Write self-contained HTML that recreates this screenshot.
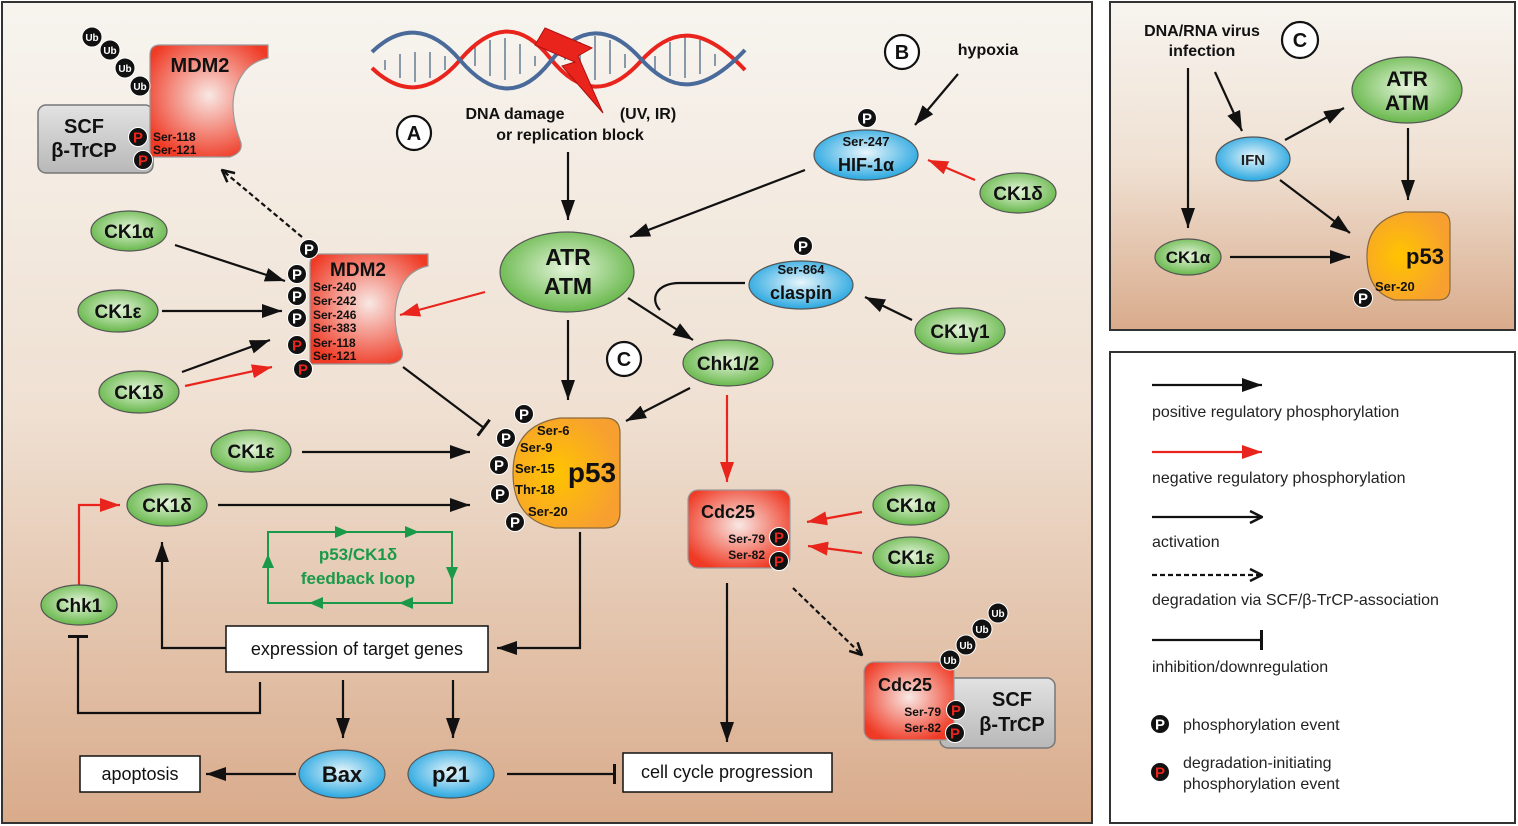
<!DOCTYPE html>
<html><head><meta charset="utf-8"><style>
html,body{margin:0;padding:0;background:#fff;}
svg{display:block;font-family:"Liberation Sans",Arial,sans-serif;font-weight:bold;}
</style></head><body>
<svg width="1518" height="826" viewBox="0 0 1518 826" xmlns="http://www.w3.org/2000/svg">
<defs>
<linearGradient id="bg" x1="0" y1="0" x2="0" y2="1"><stop offset="0" stop-color="#f7f4ef"/><stop offset="0.5" stop-color="#efe0d2"/><stop offset="1" stop-color="#d9ab8b"/></linearGradient>
<radialGradient id="gr" cx="0.5" cy="0.45" r="0.6"><stop offset="0" stop-color="#e6f5dc"/><stop offset="1" stop-color="#5cb23e"/></radialGradient>
<radialGradient id="bl" cx="0.5" cy="0.45" r="0.6"><stop offset="0" stop-color="#e8f6fb"/><stop offset="1" stop-color="#18a0de"/></radialGradient>
<radialGradient id="rd" cx="0.5" cy="0.45" r="0.6"><stop offset="0" stop-color="#f8e8e4"/><stop offset="1" stop-color="#ef3a25"/></radialGradient>
<radialGradient id="or" cx="0.4" cy="0.5" r="0.6"><stop offset="0" stop-color="#ffc400"/><stop offset="1" stop-color="#f7a030"/></radialGradient>
<linearGradient id="gy" x1="0" y1="0" x2="0" y2="1"><stop offset="0" stop-color="#e2e2e2"/><stop offset="1" stop-color="#b8b8b8"/></linearGradient>
<marker id="a" viewBox="0 0 20 14" refX="20" refY="7" markerWidth="20" markerHeight="14" orient="auto" markerUnits="userSpaceOnUse"><path d="M0,0L20,7L0,14z" fill="#111"/></marker>
<marker id="ar" viewBox="0 0 20 14" refX="20" refY="7" markerWidth="20" markerHeight="14" orient="auto" markerUnits="userSpaceOnUse"><path d="M0,0L20,7L0,14z" fill="#e8241c"/></marker>
<marker id="ao" viewBox="0 0 14 14" refX="13" refY="7" markerWidth="14" markerHeight="14" orient="auto" markerUnits="userSpaceOnUse"><path d="M1,1L13,7L1,13" fill="none" stroke="#111" stroke-width="2.5"/></marker>
<marker id="ag" viewBox="0 0 14 12" refX="13" refY="6" markerWidth="14" markerHeight="12" orient="auto" markerUnits="userSpaceOnUse"><path d="M0,0L14,6L0,12z" fill="#1a9a48"/></marker>
<marker id="t" viewBox="0 0 4 20" refX="2" refY="10" markerWidth="4" markerHeight="20" orient="auto" markerUnits="userSpaceOnUse"><rect x="0" y="0" width="3" height="20" fill="#111"/></marker>
<g id="P"><circle r="9.5" fill="#111" stroke="#fff" stroke-width="1"/><text y="5.5" text-anchor="middle" font-size="15" fill="#fff">P</text></g>
<g id="PR"><circle r="9.5" fill="#111" stroke="#fff" stroke-width="1"/><text y="5.5" text-anchor="middle" font-size="15" fill="#e8241c">P</text></g>
<g id="Ub"><circle r="10" fill="#111" stroke="#fff" stroke-width="1"/><text y="4" text-anchor="middle" font-size="10" fill="#fff">Ub</text></g>
</defs>

<rect x="2" y="2" width="1090" height="821" fill="url(#bg)" stroke="#333" stroke-width="2"/>
<rect x="1110" y="2" width="405" height="328" fill="url(#bg)" stroke="#333" stroke-width="2"/>
<rect x="1110" y="352" width="405" height="471" fill="#fff" stroke="#333" stroke-width="2"/>

<g stroke="#111" stroke-width="2.2" fill="none">
<g stroke="#8899aa" stroke-width="2">
<path d="M385,70v-10M400,78v-24M415,82v-30M430,78v-26M445,70v-14M475,46v20M490,40v36M505,38v42M520,44v30M535,56v10M565,60v-10M580,42v38M595,36v44M610,40v34M625,54v14M655,56v14M670,42v34M685,36v42M700,40v34M715,54v12"/>
</g>
<path d="M372,68 C400,95 430,95 460,60 S520,20 550,58 S610,95 640,62 S700,22 745,70" stroke="#e8241c" stroke-width="4"/>
<path d="M372,52 C400,25 430,25 460,60 S520,100 550,62 S610,25 640,58 S700,98 745,50" stroke="#4a6a9a" stroke-width="4"/>
</g>
<path d="M545,28 L592,48 L578,56 L603,113 L562,66 L575,62 L535,45 Z" fill="#e8241c" stroke="#b01010"/>
<g font-size="16" fill="#111">
<text x="515" y="119" text-anchor="middle">DNA damage</text>
<text x="648" y="119" text-anchor="middle">(UV, IR)</text>
<text x="570" y="140" text-anchor="middle">or replication block</text>
<text x="988" y="55" text-anchor="middle">hypoxia</text>
</g>
<g fill="#fff" stroke="#111" stroke-width="2.2">
<circle cx="414" cy="133" r="17"/><circle cx="902" cy="52" r="17"/><circle cx="624" cy="359" r="17"/><circle cx="1300" cy="40" r="18"/>
</g>
<g font-size="20" text-anchor="middle" fill="#111">
<text x="414" y="140">A</text><text x="902" y="59">B</text><text x="624" y="366">C</text><text x="1300" y="47">C</text>
</g>

<g stroke="#111" stroke-width="2.2" fill="none" marker-end="url(#a)">
<path d="M568,152 V220"/>
<path d="M958,74 L915,125"/>
<path d="M805,170 L630,237"/>
<path d="M912,320 L865,297"/>
<path d="M628,298 L693,340"/>
<path d="M690,388 L626,421"/>
<path d="M568,320 V400"/>
<path d="M175,245 L285,281"/>
<path d="M162,311 H282"/>
<path d="M182,372 L270,340"/>
<path d="M302,452 H470"/>
<path d="M218,505 H470"/>
<path d="M580,532 V648 H497"/>
<path d="M226,648 H162 V542"/>
<path d="M343,680 V738"/>
<path d="M453,680 V738"/>
<path d="M296,774 H206"/>
<path d="M727,583 V742"/>
<path d="M1188,68 V228"/>
<path d="M1215,72 L1242,131"/>
<path d="M1285,140 L1344,108"/>
<path d="M1408,128 V200"/>
<path d="M1280,180 L1350,233"/>
<path d="M1230,257 H1350"/>
<path d="M1152,385 H1262"/>
<path d="M1152,517 H1262" marker-end="url(#ao)"/>
</g>
<path d="M745,283 H680 C655,283 650,300 660,310" stroke="#111" stroke-width="2.2" fill="none"/>
<g stroke="#e8241c" stroke-width="2.2" fill="none" marker-end="url(#ar)">
<path d="M975,180 L928,160"/>
<path d="M727,395 V482"/>
<path d="M485,292 L400,315"/>
<path d="M185,386 L272,367"/>
<path d="M79,585 V505 H120"/>
<path d="M862,512 L807,522"/>
<path d="M862,553 L808,546"/>
<path d="M1152,452 H1262"/>
</g>
<g stroke="#111" stroke-width="2.2" fill="none" stroke-dasharray="5,3" marker-end="url(#ao)">
<path d="M302,237 L222,170"/>
<path d="M793,588 L862,655"/>
<path d="M1152,575 H1262"/>
</g>
<g stroke="#111" stroke-width="2.2" fill="none" marker-end="url(#t)">
<path d="M403,367 L484,428"/>
<path d="M260,682 V713 H78 V636"/>
<path d="M507,774 H615"/>
<path d="M1152,640 H1262"/>
</g>
<g stroke="#1a9a48" stroke-width="2" fill="none">
<path d="M268,580 V532 H452 V578" />
<path d="M452,580 V603 H268 V580"/>
</g>
<g stroke="#1a9a48" stroke-width="2" fill="none" marker-end="url(#ag)">
<path d="M330,532 H348"/><path d="M400,532 H418"/><path d="M452,565 V580"/>
<path d="M420,603 H400"/><path d="M330,603 H310"/><path d="M268,575 V555"/>
</g>
<text x="358" y="560" text-anchor="middle" font-size="17" fill="#1a9a48">p53/CK1δ</text>
<text x="358" y="584" text-anchor="middle" font-size="17" fill="#1a9a48">feedback loop</text>

<rect x="38" y="105" width="115" height="68" rx="8" fill="url(#gy)" stroke="#777" stroke-width="1.5"/>
<path d="M150,55 Q150,45 160,45 H268 V58 Q250,62 242,75 Q225,100 240,140 Q245,152 230,157 H150 Z" fill="url(#rd)" stroke="#999" stroke-width="1.2"/>
<text x="84" y="133" text-anchor="middle" font-size="20" fill="#111">SCF</text>
<text x="84" y="157" text-anchor="middle" font-size="20" fill="#111">β-TrCP</text>
<text x="200" y="72" text-anchor="middle" font-size="20" fill="#111">MDM2</text>
<text x="153" y="141" font-size="12" fill="#111">Ser-118</text>
<text x="153" y="154" font-size="12" fill="#111">Ser-121</text>
<use href="#PR" x="138" y="137"/><use href="#PR" x="143" y="160"/>
<use href="#Ub" x="92" y="37"/><use href="#Ub" x="110" y="50"/><use href="#Ub" x="125" y="68"/><use href="#Ub" x="140" y="86"/>

<path d="M310,264 Q310,254 320,254 H428 V266 Q410,270 402,285 Q388,315 402,350 Q405,362 390,364 H310 Z" fill="url(#rd)" stroke="#999" stroke-width="1.2"/>
<text x="358" y="276" text-anchor="middle" font-size="19" fill="#111">MDM2</text>
<g font-size="12" fill="#111">
<text x="313" y="291">Ser-240</text><text x="313" y="305">Ser-242</text><text x="313" y="319">Ser-246</text><text x="313" y="332">Ser-383</text><text x="313" y="347">Ser-118</text><text x="313" y="360">Ser-121</text>
</g>
<use href="#P" x="309" y="249"/><use href="#P" x="297" y="274"/><use href="#P" x="297" y="296"/><use href="#P" x="297" y="318"/><use href="#PR" x="297" y="345"/><use href="#PR" x="303" y="369"/>

<path d="M560,418 H605 Q620,418 620,433 V512 Q620,528 605,528 H555 Q513,520 513,473 Q513,425 560,418 Z" fill="url(#or)" stroke="#8a6a3a" stroke-width="1.2"/>
<text x="592" y="482" text-anchor="middle" font-size="28" fill="#111">p53</text>
<g font-size="13" fill="#111">
<text x="537" y="435">Ser-6</text><text x="520" y="452">Ser-9</text><text x="515" y="473">Ser-15</text><text x="515" y="494">Thr-18</text><text x="528" y="516">Ser-20</text>
</g>
<use href="#P" x="524" y="414"/><use href="#P" x="506" y="438"/><use href="#P" x="499" y="465"/><use href="#P" x="500" y="494"/><use href="#P" x="515" y="522"/>

<rect x="688" y="490" width="102" height="78" rx="10" fill="url(#rd)" stroke="#999" stroke-width="1.2"/>
<text x="728" y="518" text-anchor="middle" font-size="18" fill="#111">Cdc25</text>
<text x="765" y="543" text-anchor="end" font-size="12" fill="#111">Ser-79</text>
<text x="765" y="559" text-anchor="end" font-size="12" fill="#111">Ser-82</text>
<use href="#PR" x="779" y="537"/><use href="#PR" x="779" y="561"/>

<rect x="940" y="678" width="115" height="70" rx="8" fill="url(#gy)" stroke="#777" stroke-width="1.5"/>
<rect x="864" y="662" width="90" height="78" rx="10" fill="url(#rd)" stroke="#999" stroke-width="1.2"/>
<text x="905" y="691" text-anchor="middle" font-size="18" fill="#111">Cdc25</text>
<text x="941" y="716" text-anchor="end" font-size="12" fill="#111">Ser-79</text>
<text x="941" y="732" text-anchor="end" font-size="12" fill="#111">Ser-82</text>
<use href="#PR" x="956" y="710"/><use href="#PR" x="955" y="733"/>
<text x="1012" y="706" text-anchor="middle" font-size="20" fill="#111">SCF</text>
<text x="1012" y="731" text-anchor="middle" font-size="20" fill="#111">β-TrCP</text>
<use href="#Ub" x="950" y="660"/><use href="#Ub" x="966" y="645"/><use href="#Ub" x="982" y="629"/><use href="#Ub" x="998" y="613"/>

<g stroke="#555" stroke-width="1.2">
<ellipse cx="567" cy="272" rx="67" ry="40" fill="url(#gr)"/>
<ellipse cx="866" cy="155" rx="52" ry="25" fill="url(#bl)"/>
<ellipse cx="1018" cy="193" rx="38" ry="20" fill="url(#gr)"/>
<ellipse cx="801" cy="285" rx="52" ry="24" fill="url(#bl)"/>
<ellipse cx="960" cy="331" rx="45" ry="23" fill="url(#gr)"/>
<ellipse cx="728" cy="363" rx="45" ry="23" fill="url(#gr)"/>
<ellipse cx="129" cy="231" rx="38" ry="20" fill="url(#gr)"/>
<ellipse cx="118" cy="311" rx="40" ry="21" fill="url(#gr)"/>
<ellipse cx="139" cy="392" rx="40" ry="21" fill="url(#gr)"/>
<ellipse cx="251" cy="451" rx="40" ry="21" fill="url(#gr)"/>
<ellipse cx="167" cy="505" rx="40" ry="21" fill="url(#gr)"/>
<ellipse cx="79" cy="605" rx="38" ry="20" fill="url(#gr)"/>
<ellipse cx="342" cy="774" rx="43" ry="24" fill="url(#bl)"/>
<ellipse cx="451" cy="774" rx="43" ry="24" fill="url(#bl)"/>
<ellipse cx="911" cy="505" rx="38" ry="20" fill="url(#gr)"/>
<ellipse cx="911" cy="557" rx="38" ry="20" fill="url(#gr)"/>
<ellipse cx="1407" cy="90" rx="55" ry="33" fill="url(#gr)"/>
<ellipse cx="1253" cy="159" rx="37" ry="22" fill="url(#bl)"/>
<ellipse cx="1188" cy="257" rx="33" ry="18" fill="url(#gr)"/>
</g>
<use href="#P" x="867" y="118"/><use href="#P" x="803" y="246"/>
<g text-anchor="middle" fill="#111">
<text x="568" y="265" font-size="23">ATR</text><text x="568" y="294" font-size="23">ATM</text>
<text x="866" y="146" font-size="13">Ser-247</text><text x="866" y="171" font-size="18">HIF-1α</text>
<text x="1018" y="200" font-size="19">CK1δ</text>
<text x="801" y="274" font-size="13">Ser-864</text><text x="801" y="299" font-size="18">claspin</text>
<text x="960" y="338" font-size="19">CK1γ1</text>
<text x="728" y="370" font-size="19">Chk1/2</text>
<text x="129" y="238" font-size="19">CK1α</text>
<text x="118" y="318" font-size="19">CK1ε</text>
<text x="139" y="399" font-size="19">CK1δ</text>
<text x="251" y="458" font-size="19">CK1ε</text>
<text x="167" y="512" font-size="19">CK1δ</text>
<text x="79" y="612" font-size="19">Chk1</text>
<text x="342" y="782" font-size="22">Bax</text>
<text x="451" y="782" font-size="22">p21</text>
<text x="911" y="512" font-size="19">CK1α</text>
<text x="911" y="564" font-size="19">CK1ε</text>
<text x="1407" y="86" font-size="21">ATR</text><text x="1407" y="110" font-size="21">ATM</text>
<text x="1253" y="165" font-size="15" fill="#222">IFN</text>
<text x="1188" y="263" font-size="17">CK1α</text>
<text x="1202" y="36" font-size="16">DNA/RNA virus</text><text x="1202" y="56" font-size="16">infection</text>
</g>

<g fill="#fff" stroke="#111" stroke-width="1.5">
<rect x="226" y="626" width="262" height="46"/>
<rect x="80" y="756" width="120" height="36"/>
<rect x="623" y="753" width="209" height="39"/>
</g>
<g font-weight="normal" font-size="18" fill="#111" text-anchor="middle">
<text x="357" y="655">expression of target genes</text>
<text x="140" y="780">apoptosis</text>
<text x="727" y="778">cell cycle progression</text>
</g>

<path d="M1405,212 H1438 Q1450,212 1450,224 V288 Q1450,300 1438,300 H1395 Q1367,292 1367,256 Q1367,220 1405,212 Z" fill="url(#or)" stroke="#8a6a3a" stroke-width="1.2"/>
<text x="1425" y="264" text-anchor="middle" font-size="22" fill="#111">p53</text>
<text x="1375" y="291" font-size="13" fill="#111">Ser-20</text>
<use href="#P" x="1363" y="298"/>

<g font-weight="normal" font-size="16" fill="#222">
<text x="1152" y="417">positive regulatory phosphorylation</text>
<text x="1152" y="483">negative regulatory phosphorylation</text>
<text x="1152" y="547">activation</text>
<text x="1152" y="605">degradation via SCF/β-TrCP-association</text>
<text x="1152" y="672">inhibition/downregulation</text>
<text x="1183" y="730">phosphorylation event</text>
<text x="1183" y="768">degradation-initiating</text>
<text x="1183" y="789">phosphorylation event</text>
</g>
<use href="#P" x="1160" y="724"/><use href="#PR" x="1160" y="772"/>
</svg>
</body></html>
